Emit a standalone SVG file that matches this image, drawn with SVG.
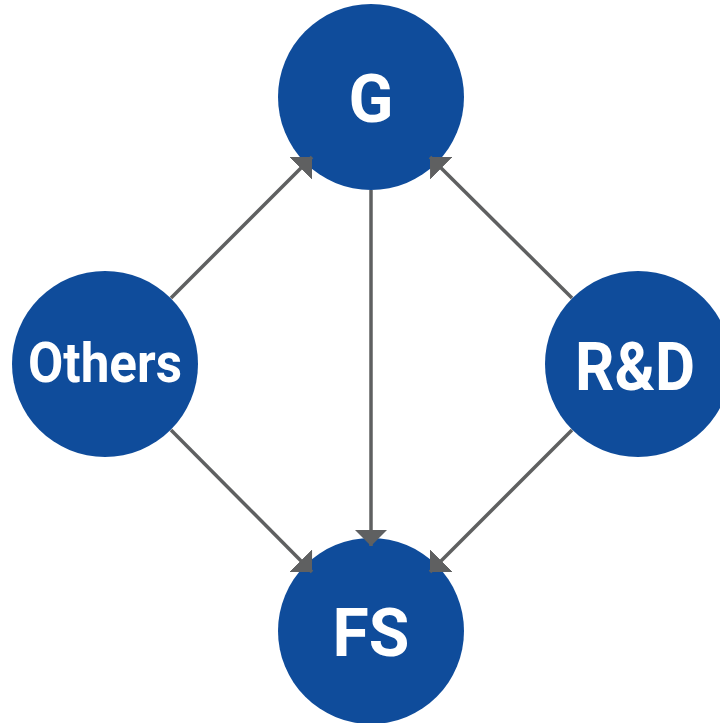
<svg xmlns="http://www.w3.org/2000/svg" width="720" height="723" viewBox="0 0 720 723">
<defs>
<style>
.node{fill:#0f4c9b}
.lbl{fill:#ffffff;font-family:Roboto,"Liberation Sans",sans-serif;font-weight:700;text-anchor:middle}
.edge{stroke:#5f6061;stroke-width:3.5;fill:none}
</style>
<marker id="ah" viewBox="0 0 16 32" refX="16" refY="16" markerWidth="16" markerHeight="32" markerUnits="userSpaceOnUse" orient="auto">
<path d="M0,0 L16,16 L0,32 Z" fill="#5f6061"/>
</marker>
</defs>
<rect width="720" height="723" fill="#ffffff"/>
<g id="node-G">
<circle class="node" cx="371" cy="97" r="93"/>
<text class="lbl" x="371" y="122" font-size="66">G</text>
</g>
<g id="node-Others">
<circle class="node" cx="105" cy="364" r="93"/>
<text class="lbl" x="105" y="382" font-size="56" textLength="154" lengthAdjust="spacingAndGlyphs">Others</text>
</g>
<g id="node-RD">
<circle class="node" cx="638" cy="364" r="93"/>
<text class="lbl" x="635" y="390" font-size="66" textLength="120" lengthAdjust="spacingAndGlyphs">R&amp;D</text>
</g>
<g id="node-FS">
<circle class="node" cx="371" cy="631" r="93"/>
<text class="lbl" x="371" y="656" font-size="66">FS</text>
</g>
<g id="connectors">
<line class="edge" x1="371" y1="190" x2="371" y2="546" marker-end="url(#ah)"/>
<line class="edge" x1="171" y1="298" x2="312" y2="157" marker-end="url(#ah)"/>
<line class="edge" x1="572" y1="298" x2="430" y2="157" marker-end="url(#ah)"/>
<line class="edge" x1="171" y1="430" x2="312" y2="572" marker-end="url(#ah)"/>
<line class="edge" x1="572" y1="430" x2="430" y2="572" marker-end="url(#ah)"/>
</g>
</svg>
